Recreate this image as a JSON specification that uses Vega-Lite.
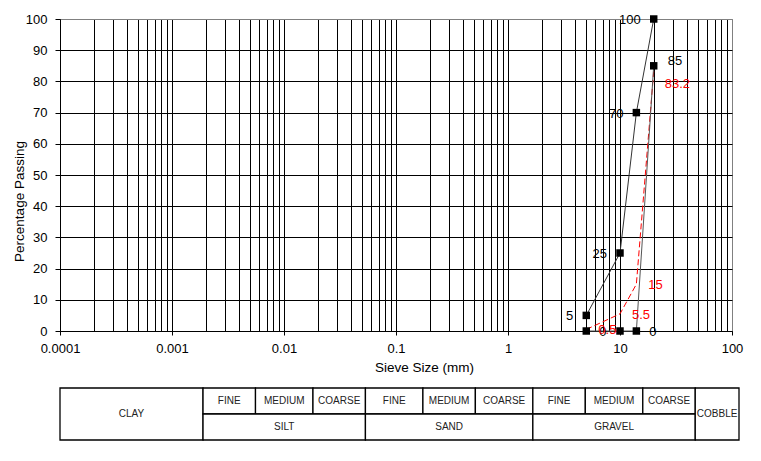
{
  "$schema": "https://vega.github.io/schema/vega-lite/v6.json",
  "background": "white",
  "padding": {"left": 11, "top": 12, "right": 0, "bottom": 0},
  "config": {"font": "Liberation Sans", "view": {"stroke": null}},
  "bounds": "flush",
  "spacing": 57,
  "datasets": {
    "points": [
      {"series": "A", "size": 5, "pct": 5, "label": "5"},
      {"series": "A", "size": 10, "pct": 25, "label": "25"},
      {"series": "A", "size": 14, "pct": 70, "label": "70"},
      {"series": "A", "size": 20, "pct": 100, "label": "100"},
      {"series": "B", "size": 5, "pct": 0, "label": "0"},
      {"series": "B", "size": 10, "pct": 0, "label": ""},
      {"series": "B", "size": 14, "pct": 0, "label": "0"},
      {"series": "B", "size": 20, "pct": 85, "label": "85"},
      {"series": "R", "size": 5, "pct": 0.5, "label": "0.5"},
      {"series": "R", "size": 10, "pct": 5.5, "label": "5.5"},
      {"series": "R", "size": 14, "pct": 15, "label": "15"},
      {"series": "R", "size": 20, "pct": 83.2, "label": "83.2"}
    ],
    "table": [
      {"label": "CLAY", "lo": 0.0001, "hi": 0.002, "r0": 0, "r1": 2},
      {"label": "FINE", "lo": 0.002, "hi": 0.006, "r0": 1, "r1": 2},
      {"label": "MEDIUM", "lo": 0.006, "hi": 0.02, "r0": 1, "r1": 2},
      {"label": "COARSE", "lo": 0.02, "hi": 0.06, "r0": 1, "r1": 2},
      {"label": "FINE", "lo": 0.06, "hi": 0.2, "r0": 1, "r1": 2},
      {"label": "MEDIUM", "lo": 0.2, "hi": 0.6, "r0": 1, "r1": 2},
      {"label": "COARSE", "lo": 0.6, "hi": 2, "r0": 1, "r1": 2},
      {"label": "FINE", "lo": 2, "hi": 6, "r0": 1, "r1": 2},
      {"label": "MEDIUM", "lo": 6, "hi": 20, "r0": 1, "r1": 2},
      {"label": "COARSE", "lo": 20, "hi": 60, "r0": 1, "r1": 2},
      {"label": "SILT", "lo": 0.002, "hi": 0.06, "r0": 0, "r1": 1},
      {"label": "SAND", "lo": 0.06, "hi": 2, "r0": 0, "r1": 1},
      {"label": "GRAVEL", "lo": 2, "hi": 60, "r0": 0, "r1": 1},
      {"label": "COBBLE", "lo": 60, "hi": 150, "r0": 0, "r1": 2}
    ]
  },
  "vconcat": [
    {
      "width": 672,
      "height": 312,
      "view": {"stroke": "#808080", "strokeWidth": 1},
      "data": {"name": "points"},
      "encoding": {
        "x": {
          "field": "size",
          "type": "quantitative",
          "scale": {"type": "log", "domain": [0.0001, 100], "nice": false},
          "axis": {
            "title": "Sieve Size (mm)",
            "values": [0.0001, 0.0002, 0.0003, 0.0004, 0.0005, 0.0006, 0.0007, 0.0008, 0.0009,
                       0.001, 0.002, 0.003, 0.004, 0.005, 0.006, 0.007, 0.008, 0.009,
                       0.01, 0.02, 0.03, 0.04, 0.05, 0.06, 0.07, 0.08, 0.09,
                       0.1, 0.2, 0.3, 0.4, 0.5, 0.6, 0.7, 0.8, 0.9,
                       1, 2, 3, 4, 5, 6, 7, 8, 9,
                       10, 20, 30, 40, 50, 60, 70, 80, 90, 100],
            "format": "~g",
            "labelExpr": "abs(log(datum.value)/LN10 - round(log(datum.value)/LN10)) < 1e-6 ? datum.label : ''",
            "grid": true,
            "gridColor": {"condition": {"test": "datum.value >= 99", "value": "#808080"}, "value": "black"},
            "gridOpacity": 1,
            "gridWidth": 1,
            "domainColor": "black",
            "tickColor": "black",
            "tickSize": 4,
            "tickOpacity": {"condition": {"test": "abs(log(datum.value)/LN10 - round(log(datum.value)/LN10)) < 1e-6", "value": 1}, "value": 0},
            "labelFontSize": 13,
            "labelColor": "black",
            "labelPadding": 7,
            "labelFlush": false,
            "labelOverlap": false,
            "labelBound": false,
            "titleFontSize": 13.5,
            "titleFontWeight": "normal",
            "titleColor": "black",
            "titleX": 364,
            "titleY": 36,
            "titleAlign": "center",
            "titleBaseline": "middle"
          }
        },
        "y": {
          "field": "pct",
          "type": "quantitative",
          "scale": {"domain": [0, 100], "nice": false},
          "axis": {
            "title": "Percentage Passing",
            "values": [0, 10, 20, 30, 40, 50, 60, 70, 80, 90, 100],
            "grid": true,
            "gridColor": {"condition": {"test": "datum.value >= 99", "value": "#808080"}, "value": "black"},
            "gridOpacity": 1,
            "gridWidth": 1,
            "domainColor": "black",
            "tickColor": "black",
            "tickSize": 5,
            "labelFontSize": 13,
            "labelColor": "black",
            "labelPadding": 8,
            "labelFlush": false,
            "titleFontSize": 13.5,
            "titleFontWeight": "normal",
            "titleColor": "black",
            "titleX": -41,
            "titleY": 182,
            "titleAngle": -90,
            "titleAlign": "center",
            "titleBaseline": "middle"
          }
        }
      },
      "layer": [
        {
          "transform": [{"filter": "datum.series == 'R'"}],
          "mark": {"type": "line", "color": "#FF0000", "strokeWidth": 1, "strokeDash": [6, 3]},
          "encoding": {}
        },
        {
          "transform": [{"filter": "datum.series == 'A'"}],
          "mark": {"type": "line", "color": "#333333", "strokeWidth": 1},
          "encoding": {}
        },
        {
          "transform": [{"filter": "datum.series == 'B'"}],
          "mark": {"type": "line", "color": "#555555", "strokeWidth": 1},
          "encoding": {}
        },
        {
          "transform": [{"filter": "datum.series != 'R'"}],
          "mark": {"type": "point", "shape": "square", "filled": true, "color": "black", "size": 56, "opacity": 1},
          "encoding": {}
        },
        {
          "transform": [{"filter": "datum.series == 'A'"}],
          "mark": {"type": "text", "align": "right", "dx": -13, "dy": 1, "fontSize": 13, "color": "black"},
          "encoding": {"text": {"field": "label"}}
        },
        {
          "transform": [{"filter": "datum.series == 'B' && datum.pct < 50"}],
          "mark": {"type": "text", "align": "left", "dx": 13, "dy": 1, "fontSize": 13, "color": "black"},
          "encoding": {"text": {"field": "label"}}
        },
        {
          "transform": [{"filter": "datum.series == 'B' && datum.pct > 50"}],
          "mark": {"type": "text", "align": "left", "dx": 14, "dy": -5, "fontSize": 13, "color": "black"},
          "encoding": {"text": {"field": "label"}}
        },
        {
          "transform": [{"filter": "datum.series == 'R' && datum.pct < 50"}],
          "mark": {"type": "text", "align": "left", "dx": 12, "dy": 1, "fontSize": 13, "color": "#FF0000"},
          "encoding": {"text": {"field": "label"}}
        },
        {
          "transform": [{"filter": "datum.series == 'R' && datum.pct > 50"}],
          "mark": {"type": "text", "align": "left", "dx": 11, "dy": 13, "fontSize": 13, "color": "#FF0000"},
          "encoding": {"text": {"field": "label"}}
        }
      ]
    },
    {
      "width": 679,
      "height": 52,
      "data": {"name": "table"},
      "transform": [
        {"calculate": "sqrt(datum.lo * datum.hi)", "as": "mid"},
        {"calculate": "(datum.r0 + datum.r1) / 2", "as": "rm"}
      ],
      "layer": [
        {
          "mark": {"type": "rect", "fill": "white", "stroke": "black", "strokeWidth": 1.3},
          "encoding": {
            "x": {"field": "lo", "type": "quantitative", "scale": {"type": "log", "domain": [0.0001, 150], "nice": false}, "axis": null},
            "x2": {"field": "hi"},
            "y": {"field": "r0", "type": "quantitative", "scale": {"domain": [0, 2], "nice": false}, "axis": null},
            "y2": {"field": "r1"}
          }
        },
        {
          "mark": {"type": "text", "fontSize": 10, "color": "#222222"},
          "encoding": {
            "x": {"field": "mid", "type": "quantitative"},
            "y": {"field": "rm", "type": "quantitative"},
            "text": {"field": "label"}
          }
        }
      ]
    }
  ]
}
